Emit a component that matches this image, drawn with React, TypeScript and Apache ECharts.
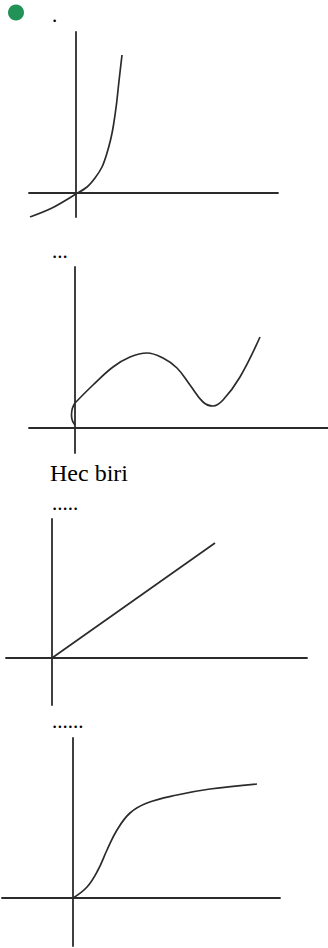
import React, { useEffect, useRef } from "react";
import * as echarts from "echarts";

// Option labels shown above each sketch
const captions = [".", "...", "Hec biri", ".....", "......"];

// Sketch 1: exponential-like growth
const curveA: [number, number][] = [
  [-4.6, -2.4], [-2.4, -1.5], [0, -0.1], [1.1, 0.6], [1.9, 1.5],
  [2.6, 2.6], [3.1, 4.0], [3.5, 5.5], [3.75, 6.8], [4.05, 8.9],
  [4.3, 11.2], [4.6, 13.8],
];

// Sketch 2: rise, hump, dip and rise again (with the small hook at the start)
const curveBHook: [number, number][] = [[0, 0.3], [-0.35, 1.3], [0, 2.5]];
const curveB: [number, number][] = [
  [0, 2.5], [1.8, 4.3], [3.8, 6.1], [5.5, 7.1], [7.2, 7.5], [8.8, 7.0],
  [10.2, 6.0], [11.5, 4.3], [12.8, 2.6], [13.8, 2.2], [14.8, 2.8],
  [16.5, 5.1], [18.5, 9.1],
];

// Sketch 3: straight line through the origin
const curveC: [number, number][] = [[0, 0], [16.3, 11.5]];

// Sketch 4: S-shaped rise levelling off
const curveD: [number, number][] = [
  [0, 0], [1.4, 1.1], [2.5, 2.8], [3.4, 4.8], [4.4, 6.8], [5.7, 8.5],
  [7.4, 9.5], [10.4, 10.3], [13.7, 10.9], [18.4, 11.4],
];

// Axis extents for each sketch: [xMin, xMax, yMin, yMax]
const ranges: [number, number, number, number][] = [
  [-4.7, 20.2, -2.4, 16.1],
  [-4.6, 25.3, -2.5, 16.1],
  [-4.6, 25.5, -4.7, 13.9],
  [-7.1, 20.7, -4.8, 16.0],
];

const grids = [
  { left: 29, top: 32, width: 249, height: 185 },
  { left: 29, top: 267, width: 299, height: 186 },
  { left: 6, top: 519, width: 301, height: 186 },
  { left: 2, top: 738, width: 278, height: 208 },
];

const INK = "#2b2b2b";
const SERIF = '"Liberation Serif", "Times New Roman", serif';

export default function App() {
  const ref = useRef<HTMLDivElement>(null);

  useEffect(() => {
    if (!ref.current) return;
    const chart = echarts.init(ref.current, undefined, { renderer: "svg" });

    const axisBase = {
      type: "value" as const,
      axisLine: { show: true, onZero: true, lineStyle: { color: INK, width: 1.8 } },
      axisTick: { show: false },
      axisLabel: { show: false },
      splitLine: { show: false },
    };

    const xAxis = ranges.map((r, i) => ({ ...axisBase, gridIndex: i, min: r[0], max: r[1] }));
    const yAxis = ranges.map((r, i) => ({ ...axisBase, gridIndex: i, min: r[2], max: r[3] }));

    const lineSeries = (data: [number, number][], idx: number, smooth: boolean | number) => ({
      type: "line" as const,
      xAxisIndex: idx,
      yAxisIndex: idx,
      data,
      smooth,
      symbol: "none",
      lineStyle: { color: INK, width: 1.7 },
      z: 3,
    });

    const captionPos = [
      { x: 52, y: 15, size: 21 },
      { x: 52, y: 251, size: 21 },
      { x: 50, y: 473, size: 24 },
      { x: 52, y: 503, size: 21 },
      { x: 52, y: 721, size: 21 },
    ];

    chart.setOption({
      animation: false,
      grid: grids.map((g) => ({ ...g, containLabel: false })),
      xAxis,
      yAxis,
      series: [
        lineSeries(curveA, 0, 0.3),
        lineSeries(curveBHook, 1, 0.6),
        lineSeries(curveB, 1, 0.4),
        lineSeries(curveC, 2, false),
        lineSeries(curveD, 3, 0.4),
      ],
      graphic: [
        {
          type: "circle",
          shape: { cx: 16, cy: 12.5, r: 8 },
          style: { fill: "#229257" },
        },
        ...captions.map((t, i) => ({
          type: "text",
          x: captionPos[i].x,
          y: captionPos[i].y,
          style: {
            text: t,
            fill: "#000",
            font: `${captionPos[i].size}px ${SERIF}`,
            verticalAlign: "middle",
            align: "left",
          },
        })),
      ],
    });

    return () => chart.dispose();
  }, []);

  return (
    <div
      ref={ref}
      style={{ position: "absolute", left: 0, top: 0, width: 328, height: 948, background: "#fff" }}
    />
  );
}
